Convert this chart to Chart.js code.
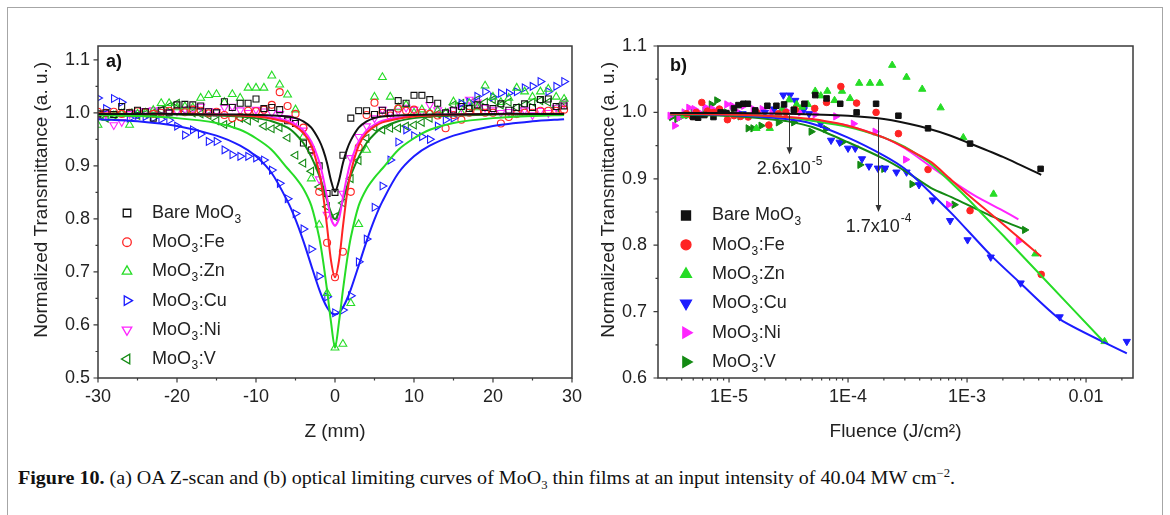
<!DOCTYPE html>
<html lang="en">
<head>
<meta charset="utf-8">
<title>Figure 10 - MoO3 Z-scan and optical limiting</title>
<script src="https://cdn.jsdelivr.net/npm/chart.js@4.4.1/dist/chart.umd.min.js"></script>
<style>
  html, body { margin: 0; padding: 0; background: #fff; }
  #figure { position: relative; width: 1170px; height: 515px; overflow: hidden; }
  #border { position: absolute; left: 7px; top: 7px; width: 1154px; height: 530px; border: 1.5px solid #a6a6a6; }
  #chartA { position: absolute; left: 8px; top: 8px; }
  #chartB { position: absolute; left: 585px; top: 8px; }
  #caption { position: absolute; left: 18px; top: 466px; white-space: nowrap; transform-origin: 0 0;
    font-family: "Liberation Serif", "DejaVu Serif", serif; font-size: 19px; line-height: 24px; color: #111; }
  #caption sub, #caption sup { font-size: 12px; line-height: 0; }
</style>
</head>
<body>
<div id="figure">
  <div id="border"></div>
  <canvas id="chartA" width="577" height="440"></canvas>
  <canvas id="chartB" width="575" height="440"></canvas>
  <div id="caption"><b>Figure 10.</b> (a) OA Z-scan and (b) optical limiting curves of MoO<sub>3</sub> thin films at an input intensity of 40.04 MW cm<sup>&minus;2</sup>.</div>
</div>
<script>
/* ---------- series shared by both panels ---------- */
const seriesNames = ['Bare MoO₃', 'MoO₃:Fe', 'MoO₃:Zn', 'MoO₃:Cu', 'MoO₃:Ni', 'MoO₃:V'];

/* ---------- panel (a): open aperture Z-scan ---------- */
const zPositions = [-30, -29, -28, -27, -26, -25, -24, -23, -22, -21, -20, -19, -18, -17, -16, -15, -14, -13, -12, -11,
  -10, -9, -8, -7, -6, -5, -4, -3, -2, -1, 0, 1, 2, 3, 4, 5, 6, 7, 8, 9, 10, 11, 12, 13, 14, 15, 16, 17, 18, 19,
  20, 21, 22, 23, 24, 25, 26, 27, 28, 29];

const zBare = [0.998, 1.0, 0.997, 1.012, 1.0, 1.005, 1.002, 0.99, 1.005, 1.0, 1.015, 1.016, 1.015, 1.013, 1.002, 1.0, 1.021, 1.01, 1.018, 1.018,
  1.026, 1.008, 1.01, 1.006, 0.985, 0.98, 0.943, 0.93, 0.9, 0.848, 0.85, 0.92, 0.99, 1.004, 1.004, 0.997, 1.005, 1.0, 1.023, 1.018,
  1.033, 1.033, 1.025, 1.018, 1.0, 1.005, 1.012, 1.008, 1.015, 1.01, 1.008, 1.017, 1.005, 1.01, 1.017, 1.01, 1.025, 1.026, 1.012, 1.013];
const zFe = [1.002, 1.0, 1.002, 0.998, 1.0, 1.003, 1.001, 0.998, 1.0, 1.004, 1.003, 1.001, 1.006, 1.004, 0.999, 1.002, 0.996, 0.99, 0.992, 1.004,
  1.003, 1.006, 1.015, 1.039, 1.013, 0.998, 0.972, 0.93, 0.851, 0.755, 0.69, 0.738, 0.851, 0.935, 0.996, 1.019, 1.0, 0.995, 1.008, 1.004,
  1.006, 1.0, 0.998, 0.995, 0.971, 0.996, 0.987, 1.0, 1.002, 1.0, 1.0, 0.98, 0.992, 0.998, 1.0, 1.0, 1.004, 1.004, 1.004, 1.006];
const zZn = [0.977, 0.99, 0.995, 0.998, 0.977, 0.998, 1.0, 1.005, 1.018, 1.018, 1.01, 1.012, 1.01, 1.028, 1.033, 1.035, 1.02, 1.035, 1.028, 1.047,
  1.047, 1.047, 1.07, 1.053, 1.034, 1.006, 0.955, 0.876, 0.789, 0.66, 0.557, 0.564, 0.641, 0.79, 0.93, 1.03, 1.067, 1.03, 1.01, 1.015,
  1.0, 1.006, 1.0, 1.004, 1.0, 1.021, 1.0, 1.018, 1.01, 1.051, 1.03, 1.02, 1.028, 1.047, 1.04, 1.03, 1.04, 1.045, 1.03, 1.026];
const zCu = [1.028, 1.008, 1.027, 1.02, 0.99, 0.995, 0.993, 0.99, 0.988, 0.986, 0.975, 0.958, 0.968, 0.96, 0.946, 0.946, 0.93, 0.921, 0.918, 0.918,
  0.915, 0.911, 0.892, 0.867, 0.838, 0.81, 0.781, 0.743, 0.692, 0.653, 0.623, 0.628, 0.655, 0.719, 0.762, 0.822, 0.862, 0.911, 0.945, 0.968,
  0.957, 0.955, 0.95, 0.975, 0.987, 0.99, 1.018, 1.02, 1.031, 1.04, 1.03, 1.037, 1.037, 1.04, 1.047, 1.05, 1.059, 1.04, 1.05, 1.059];
const zNi = [0.995, 0.998, 0.977, 0.983, 0.998, 1.0, 1.004, 1.005, 1.002, 1.0, 1.003, 1.006, 1.008, 1.012, 1.004, 1.002, 1.01, 1.012, 1.005, 1.0,
  1.006, 1.003, 1.0, 0.998, 0.99, 0.985, 0.967, 0.926, 0.875, 0.808, 0.795, 0.848, 0.915, 0.955, 0.975, 0.99, 1.006, 1.0, 1.003, 1.01,
  1.006, 1.002, 1.015, 1.005, 1.0, 1.005, 1.01, 1.025, 1.02, 1.01, 1.005, 1.0, 1.002, 1.0, 1.005, 0.996, 1.004, 1.0, 1.01, 1.018];
const zV = [0.995, 0.99, 0.996, 1.0, 1.0, 0.995, 0.998, 1.0, 1.005, 1.012, 1.018, 1.005, 1.0, 0.998, 0.995, 0.985, 0.978, 0.978, 0.99, 0.985,
  0.99, 0.975, 0.97, 0.972, 0.953, 0.92, 0.905, 0.89, 0.86, 0.823, 0.804, 0.83, 0.876, 0.91, 0.952, 0.972, 0.968, 0.971, 0.971, 0.975,
  0.977, 0.982, 0.99, 0.998, 1.0, 1.015, 1.018, 1.01, 1.025, 1.02, 1.025, 1.015, 1.02, 1.01, 1.015, 1.02, 1.023, 1.02, 1.01, 1.02];

// fitted curves
const zFitPositions = [-30, -25, -20, -15, -12, -10, -8, -6, -5, -4, -3, -2, -1.5, -1, -0.5, 0, 0.5, 1, 1.5, 2, 3, 4, 5, 6, 8, 10, 12, 15, 20, 25, 29];
const zFitBare = [0.998, 0.998, 0.998, 0.997, 0.997, 0.996, 0.995, 0.993, 0.99, 0.984, 0.972, 0.948, 0.93, 0.905, 0.872, 0.851,
  0.872, 0.905, 0.93, 0.948, 0.972, 0.984, 0.99, 0.993, 0.995, 0.996, 0.997, 0.997, 0.998, 0.998, 0.998];
const zFitFe = [0.999, 0.998, 0.998, 0.997, 0.995, 0.993, 0.989, 0.982, 0.974, 0.962, 0.938, 0.888, 0.845, 0.785, 0.721, 0.69,
  0.721, 0.785, 0.845, 0.888, 0.938, 0.962, 0.974, 0.982, 0.989, 0.993, 0.995, 0.997, 0.998, 0.998, 0.999];
const zFitZn = [0.996, 0.994, 0.99, 0.981, 0.968, 0.952, 0.93, 0.895, 0.878, 0.857, 0.825, 0.765, 0.72, 0.665, 0.605, 0.557,
  0.605, 0.665, 0.72, 0.765, 0.825, 0.857, 0.878, 0.895, 0.93, 0.952, 0.968, 0.981, 0.99, 0.994, 0.996];
const zFitCu = [0.988, 0.984, 0.975, 0.957, 0.938, 0.918, 0.886, 0.833, 0.799, 0.758, 0.712, 0.667, 0.648, 0.633, 0.623, 0.62,
  0.623, 0.633, 0.648, 0.667, 0.712, 0.758, 0.799, 0.833, 0.886, 0.918, 0.938, 0.957, 0.975, 0.984, 0.988];
const zFitNi = [0.998, 0.998, 0.998, 0.997, 0.996, 0.994, 0.991, 0.985, 0.978, 0.967, 0.946, 0.908, 0.878, 0.84, 0.80, 0.787,
  0.80, 0.84, 0.878, 0.908, 0.946, 0.967, 0.978, 0.985, 0.991, 0.994, 0.996, 0.997, 0.998, 0.998, 0.998];
const zFitV = [0.998, 0.997, 0.997, 0.995, 0.993, 0.99, 0.984, 0.972, 0.96, 0.943, 0.917, 0.882, 0.86, 0.835, 0.812, 0.80,
  0.812, 0.835, 0.86, 0.882, 0.917, 0.943, 0.96, 0.972, 0.984, 0.99, 0.993, 0.995, 0.997, 0.997, 0.998];

/* ---------- panel (b): optical limiting, fluence in J/cm2 ---------- */
const flBareF = [5.0e-6, 5.5e-6, 6.2e-6, 7.4e-6, 8.5e-6, 9.5e-6, 1.1e-5, 1.2e-5, 1.32e-5, 1.44e-5, 1.66e-5, 2.1e-5, 2.5e-5,
  2.9e-5, 3.5e-5, 4.3e-5, 5.3e-5, 6.6e-5, 8.6e-5, 1.18e-4, 1.72e-4, 2.65e-4, 4.7e-4, 1.06e-3, 4.15e-3];
const flBareT = [0.993, 0.992, 0.996, 0.993, 1.0, 0.999, 1.006, 1.011, 1.013, 1.013, 1.003, 1.01, 1.01,
  1.012, 1.004, 1.013, 1.026, 1.021, 1.013, 1.0, 1.013, 0.995, 0.976, 0.953, 0.915];
const flFeF = [4.4e-6, 4.9e-6, 5.3e-6, 5.9e-6, 6.6e-6, 7.4e-6, 8.3e-6, 9.7e-6, 1.1e-5, 1.25e-5, 1.45e-5, 1.7e-5, 2.16e-5,
  2.6e-5, 3.0e-5, 3.6e-5, 5.25e-5, 6.6e-5, 8.7e-5, 1.18e-4, 1.72e-4, 2.65e-4, 4.7e-4, 1.06e-3, 4.2e-3];
const flFeT = [0.998, 0.994, 1.0, 1.015, 1.002, 1.0, 1.005, 0.989, 0.995, 0.994, 0.993, 1.0, 0.981,
  0.998, 1.0, 1.004, 1.006, 1.015, 1.039, 1.014, 1.0, 0.968, 0.914, 0.852, 0.756];
const flZnF = [4.2e-6, 6.2e-6, 9e-6, 1.3e-5, 1.7e-5, 2.2e-5, 2.8e-5, 3.2e-5, 3.7e-5, 4.1e-5, 4.6e-5, 5.3e-5, 5.9e-5, 6.7e-5,
  7.7e-5, 8.9e-5, 1.04e-4, 1.24e-4, 1.53e-4, 1.85e-4, 2.35e-4, 3.1e-4, 4.2e-4, 6.0e-4, 9.3e-4, 1.67e-3, 3.75e-3, 1.43e-2];
const flZnT = [0.995, 0.997, 0.998, 0.995, 0.976, 0.976, 1.005, 1.019, 1.012, 1.008, 1.012, 1.032, 1.025, 1.032,
  1.018, 1.032, 1.021, 1.044, 1.044, 1.044, 1.071, 1.053, 1.035, 1.007, 0.962, 0.877, 0.787, 0.655];
const flCuF = [1.3e-5, 2.0e-5, 2.4e-5, 2.86e-5, 3.26e-5, 3.6e-5, 4.25e-5, 4.7e-5, 5.9e-5, 7.2e-5, 8.5e-5, 1.0e-4, 1.15e-4, 1.31e-4,
  1.5e-4, 1.78e-4, 2.05e-4, 2.55e-4, 3.1e-4, 3.95e-4, 5.15e-4, 7.2e-4, 1.01e-3, 1.58e-3, 2.82e-3, 6.0e-3, 2.2e-2];
const flCuT = [0.998, 1.0, 1.005, 1.026, 1.026, 1.018, 1.004, 0.998, 0.983, 0.958, 0.955, 0.946, 0.946, 0.93,
  0.919, 0.916, 0.916, 0.91, 0.91, 0.891, 0.868, 0.837, 0.808, 0.782, 0.743, 0.692, 0.655];
const flNiF = [3.2e-6, 3.5e-6, 3.8e-6, 4.2e-6, 4.6e-6, 5.1e-6, 5.6e-6, 6.3e-6, 7.3e-6, 8.3e-6, 9.6e-6, 1.06e-5, 1.2e-5,
  1.33e-5, 1.6e-5, 1.9e-5, 2.3e-5, 3.0e-5, 4.0e-5, 5.3e-5, 7.9e-5, 1.11e-4, 1.69e-4, 3.05e-4, 7.0e-4, 2.7e-3];
const flNiT = [0.995, 0.98, 0.992, 1.0, 1.007, 1.005, 1.0, 1.008, 1.005, 1.002, 1.012, 1.01, 1.0,
  1.01, 1.005, 1.005, 1.0, 1.003, 1.0, 0.997, 0.994, 0.983, 0.971, 0.929, 0.861, 0.806];
const flVF = [3.3e-6, 3.65e-6, 4.0e-6, 4.5e-6, 5.0e-6, 5.6e-6, 6.3e-6, 7.1e-6, 7.9e-6, 9.5e-6, 1.1e-5, 1.24e-5, 1.45e-5,
  1.59e-5, 1.86e-5, 2.6e-5, 3.5e-5, 4.9e-5, 6.5e-5, 8.9e-5, 1.26e-4, 2.0e-4, 3.45e-4, 7.8e-4, 3.05e-3];
const flVT = [0.993, 0.99, 0.994, 0.996, 1.0, 0.998, 1.003, 1.012, 1.018, 1.0, 0.997, 0.994, 0.976,
  0.976, 0.98, 0.985, 0.985, 0.971, 0.975, 0.955, 0.921, 0.915, 0.892, 0.861, 0.823];

// fitted limiting curves
const flFitBareF = [3.2e-6, 1e-5, 3e-5, 1e-4, 2e-4, 4e-4, 7e-4, 1e-3, 2e-3, 4.2e-3];
const flFitBareT = [0.999, 0.999, 0.998, 0.995, 0.99, 0.979, 0.966, 0.955, 0.933, 0.906];
const flFitFeF = [3.2e-6, 1e-5, 2e-5, 5e-5, 1e-4, 2e-4, 3e-4, 5e-4, 7e-4, 1e-3, 2e-3, 3e-3, 4.2e-3];
const flFitFeT = [0.998, 0.997, 0.995, 0.99, 0.98, 0.962, 0.947, 0.925, 0.902, 0.877, 0.832, 0.805, 0.783];
const flFitZnF = [3.2e-6, 1e-5, 3e-5, 1e-4, 2e-4, 3e-4, 5e-4, 8e-4, 1e-3, 1.5e-3, 2e-3, 4.2e-3, 1.4e-2];
const flFitZnT = [0.998, 0.997, 0.993, 0.978, 0.962, 0.948, 0.922, 0.888, 0.871, 0.838, 0.815, 0.754, 0.655];
const flFitCuF = [3.2e-6, 1e-5, 3e-5, 5e-5, 1e-4, 2e-4, 3e-4, 5e-4, 7.7e-4, 1.58e-3, 2.8e-3, 6.1e-3, 2.2e-2];
const flFitCuT = [0.998, 0.996, 0.99, 0.983, 0.962, 0.935, 0.915, 0.878, 0.845, 0.785, 0.743, 0.688, 0.637];
const flFitNiF = [3.2e-6, 1e-5, 3e-5, 1e-4, 2e-4, 3e-4, 5e-4, 8e-4, 1.2e-3, 2e-3, 2.7e-3];
const flFitNiT = [0.998, 0.997, 0.993, 0.98, 0.962, 0.946, 0.918, 0.893, 0.873, 0.852, 0.839];
const flFitVF = [3.2e-6, 1e-5, 3e-5, 5e-5, 1e-4, 2e-4, 3e-4, 5e-4, 7.7e-4, 1.55e-3, 3.1e-3];
const flFitVT = [0.997, 0.995, 0.987, 0.978, 0.955, 0.93, 0.912, 0.886, 0.871, 0.845, 0.823];

// onset thresholds marked with arrows
const arrowFluence = [3.2e-5, 1.79e-4];
const arrowFrom = [0.996, 0.99];
const arrowTo = [0.937, 0.85];
const arrowBase = ['2.6x10', '1.7x10'];
const arrowExponent = ['-5', '-4'];

// tick labels of the fluence axis
const fluenceMajorTicks = [1e-5, 1e-4, 1e-3, 1e-2];
const fluenceTickLabels = ['1E-5', '1E-4', '1E-3', '0.01'];

/* ---------- styling ---------- */
const fontFamily = '"Liberation Sans", Arial, sans-serif';
const inkColor = '#222';
const seriesColors = ['#111111', '#ff2424', '#26dc26', '#1c1cff', '#ff24ff', '#138a13'];
const markerShapes = ['rect', 'circle', 'triangle', 'triangle', 'triangle', 'triangle'];
// triangle directions differ between the panels: (a) open symbols, (b) filled symbols
const markerTurnsA = [0, 0, 0, 90, 180, 270];
const markerTurnsB = [0, 0, 0, 180, 90, 90];

function points(xs, ys) {
    return xs.map(function (x, i) { return { x: x, y: ys[i] }; });
}

function buildDatasets(markerX, markerY, fitX, fitY, filled, sizes, turns, tension) {
    var sets = [];
    for (var i = 0; i < seriesNames.length; i++) {
        sets.push({
            label: seriesNames[i],
            data: points(markerX[i], markerY[i]),
            showLine: false,
            pointStyle: markerShapes[i],
            pointRotation: turns[i],
            pointRadius: sizes[markerShapes[i]],
            pointBorderWidth: filled ? 1 : 1.1,
            pointBorderColor: seriesColors[i],
            pointBackgroundColor: filled ? seriesColors[i] : 'rgba(0,0,0,0)',
            order: 1,
            legendMarker: true
        });
        sets.push({
            label: seriesNames[i] + ' fit',
            data: points(fitX[i], fitY[i]),
            showLine: true,
            borderColor: seriesColors[i],
            borderWidth: 2,
            pointRadius: 0,
            tension: tension,
            order: 0
        });
    }
    return sets;
}

/* marker path with the same geometry Chart.js uses */
function markerPath(ctx, shape, r, turn, x, y) {
    ctx.beginPath();
    if (shape === 'circle') {
        ctx.arc(x, y, r, 0, Math.PI * 2);
    } else if (shape === 'rect') {
        var s = r * Math.SQRT1_2;
        ctx.rect(x - s, y - s, 2 * s, 2 * s);
    } else {
        var ang = turn * Math.PI / 180;
        for (var k = 0; k < 3; k++) {
            var px = x + Math.sin(ang) * r, py = y - Math.cos(ang) * r;
            if (k === 0) ctx.moveTo(px, py); else ctx.lineTo(px, py);
            ang += 2 * Math.PI / 3;
        }
        ctx.closePath();
    }
}

/* text with subscript 3 after MoO */
function drawChemLabel(ctx, text, x, y, size) {
    var parts = text.split('₃');
    ctx.font = size + 'px ' + fontFamily;
    ctx.fillText(parts[0], x, y);
    var cx = x + ctx.measureText(parts[0]).width;
    if (parts.length > 1) {
        ctx.font = Math.round(size * 0.67) + 'px ' + fontFamily;
        ctx.fillText('3', cx + 0.5, y + size * 0.36);
        cx += ctx.measureText('3').width + 1;
        ctx.font = size + 'px ' + fontFamily;
        ctx.fillText(parts[1], cx, y);
    }
}

const panelExtras = {
    id: 'panelExtras',
    afterDraw(chart, args, opts) {
        var ctx = chart.ctx, a = chart.chartArea, xs = chart.scales.x, ys = chart.scales.y;
        ctx.save();

        // frame round the plot area
        ctx.strokeStyle = '#3a3a3a';
        ctx.lineWidth = 1.5;
        ctx.strokeRect(a.left, a.top, a.right - a.left, a.bottom - a.top);

        // outward tick marks, long for labelled ticks
        ctx.lineWidth = 1.2;
        ctx.beginPath();
        xs.ticks.forEach(function (t) {
            var px = xs.getPixelForValue(t.value);
            ctx.moveTo(px, a.bottom);
            ctx.lineTo(px, a.bottom + (t.label ? 4.5 : 2.5));
        });
        ys.ticks.forEach(function (t) {
            var py = ys.getPixelForValue(t.value);
            ctx.moveTo(a.left, py);
            ctx.lineTo(a.left - (t.label ? 4.5 : 2.5), py);
        });
        ctx.stroke();

        // panel letter
        ctx.fillStyle = '#111';
        ctx.textBaseline = 'middle';
        ctx.textAlign = 'left';
        ctx.font = 'bold 18px ' + fontFamily;
        ctx.fillText(opts.letter, a.left + opts.letterDx, a.top + opts.letterDy);

        // legend in the lower left corner
        var markers = chart.data.datasets.filter(function (d) { return d.legendMarker; });
        markers.forEach(function (d, i) {
            var y = a.bottom - opts.legendBottomGap - (markers.length - 1 - i) * opts.legendRowStep;
            markerPath(ctx, d.pointStyle, opts.legendSizes[d.pointStyle], d.pointRotation, a.left + opts.legendSymbolDx, y);
            ctx.lineWidth = 1.3;
            ctx.strokeStyle = d.pointBorderColor;
            ctx.fillStyle = d.pointBackgroundColor;
            ctx.fill();
            ctx.stroke();
            ctx.fillStyle = inkColor;
            drawChemLabel(ctx, d.label, a.left + opts.legendTextDx, y, 18);
        });

        // threshold arrows
        (opts.arrows || []).forEach(function (ar) {
            var x = Math.round(xs.getPixelForValue(ar.fluence)) + 0.5;
            var y1 = ys.getPixelForValue(ar.from), y2 = ys.getPixelForValue(ar.to);
            ctx.strokeStyle = '#333';
            ctx.fillStyle = '#333';
            ctx.lineWidth = 1;
            ctx.beginPath();
            ctx.moveTo(x, y1);
            ctx.lineTo(x, y2 - 5);
            ctx.stroke();
            ctx.beginPath();
            ctx.moveTo(x - 3, y2 - 7);
            ctx.lineTo(x + 3, y2 - 7);
            ctx.lineTo(x, y2);
            ctx.closePath();
            ctx.fill();
            ctx.font = '18px ' + fontFamily;
            var wBase = ctx.measureText(ar.base).width;
            ctx.font = '12px ' + fontFamily;
            var wExp = ctx.measureText(ar.exponent).width;
            var left = x - (wBase + wExp + 1) / 2, ty = y2 + 15;
            ctx.fillStyle = inkColor;
            ctx.font = '18px ' + fontFamily;
            ctx.fillText(ar.base, left, ty);
            ctx.font = '12px ' + fontFamily;
            ctx.fillText(ar.exponent, left + wBase + 1, ty - 8);
        });
        ctx.restore();
    }
};

function tickFont() { return { family: fontFamily, size: 18 }; }
function titleFont() { return { family: fontFamily, size: 19 }; }

/* ---------- chart (a) ---------- */
var zSizes = { rect: 4.2, circle: 3.5, triangle: 4.5 };
new Chart(document.getElementById('chartA'), {
    type: 'scatter',
    data: {
        datasets: buildDatasets(
            [zPositions, zPositions, zPositions, zPositions, zPositions, zPositions],
            [zBare, zFe, zZn, zCu, zNi, zV],
            [zFitPositions, zFitPositions, zFitPositions, zFitPositions, zFitPositions, zFitPositions],
            [zFitBare, zFitFe, zFitZn, zFitCu, zFitNi, zFitV],
            false, zSizes, markerTurnsA, 0.3)
    },
    options: {
        responsive: false,
        animation: false,
        events: [],
        layout: { padding: { top: 38, right: 12, bottom: 0, left: 0 } },
        plugins: {
            legend: { display: false },
            tooltip: { enabled: false },
            panelExtras: {
                letter: 'a)', letterDx: 8, letterDy: 16,
                legendSymbolDx: 29, legendTextDx: 54, legendBottomGap: 19, legendRowStep: 29.2,
                legendSizes: { rect: 5.3, circle: 4.3, triangle: 5.5 }
            }
        },
        scales: {
            x: {
                type: 'linear', min: -30, max: 30,
                afterFit: function (s) { s.height = 70; },
                grid: { display: false, drawTicks: true, tickLength: 5 },
                border: { display: false },
                ticks: {
                    stepSize: 5, maxTicksLimit: 100, autoSkip: false, maxRotation: 0, padding: 3,
                    color: inkColor, font: tickFont(),
                    callback: function (v) { return v % 10 === 0 ? String(v) : ''; }
                },
                title: { display: true, text: 'Z (mm)', color: inkColor, font: titleFont(), padding: { top: 0, bottom: 4.6 } }
            },
            y: {
                min: 0.5, max: 1.126,
                afterFit: function (s) { s.width = 90; },
                grid: { display: false, drawTicks: true, tickLength: 5 },
                border: { display: false },
                ticks: {
                    stepSize: 0.05, includeBounds: false, maxTicksLimit: 100, autoSkip: false, padding: 3,
                    color: inkColor, font: tickFont(),
                    callback: function (v) { var t = Math.round(v * 100); return t % 10 === 0 ? (t / 100).toFixed(1) : ''; }
                },
                title: { display: true, text: 'Normalized Transmittance (a. u.)   ', align: 'end', color: inkColor,
                         font: titleFont(), padding: { top: 22.6, bottom: 0 } }
            }
        }
    },
    plugins: [panelExtras]
});

/* ---------- chart (b) ---------- */
var fMin = 2.53e-6, fMax = 0.0248;
var fluenceTicks = [];
[1e-6, 1e-5, 1e-4, 1e-3, 1e-2].forEach(function (d) {
    for (var m = 1; m <= 9; m++) {
        var v = m * d;
        if (v >= fMin && v <= fMax) fluenceTicks.push(v);
    }
});

var flSizes = { rect: 3.9, circle: 3.3, triangle: 4.2 };
var arrows = arrowFluence.map(function (f, i) {
    return { fluence: f, from: arrowFrom[i], to: arrowTo[i], base: arrowBase[i], exponent: arrowExponent[i] };
});

new Chart(document.getElementById('chartB'), {
    type: 'scatter',
    data: {
        datasets: buildDatasets(
            [flBareF, flFeF, flZnF, flCuF, flNiF, flVF],
            [flBareT, flFeT, flZnT, flCuT, flNiT, flVT],
            [flFitBareF, flFitFeF, flFitZnF, flFitCuF, flFitNiF, flFitVF],
            [flFitBareT, flFitFeT, flFitZnT, flFitCuT, flFitNiT, flFitVT],
            true, flSizes, markerTurnsB, 0.2)
    },
    options: {
        responsive: false,
        animation: false,
        events: [],
        layout: { padding: { top: 38, right: 27, bottom: 0, left: 0 } },
        plugins: {
            legend: { display: false },
            tooltip: { enabled: false },
            panelExtras: {
                letter: 'b)', letterDx: 12, letterDy: 20,
                legendSymbolDx: 28, legendTextDx: 54, legendBottomGap: 16, legendRowStep: 29.3,
                legendSizes: { rect: 6.4, circle: 5, triangle: 6.3 },
                arrows: arrows
            }
        },
        scales: {
            x: {
                type: 'logarithmic', min: fMin, max: fMax,
                afterFit: function (s) { s.height = 70; },
                afterBuildTicks: function (s) { s.ticks = fluenceTicks.map(function (v) { return { value: v }; }); },
                grid: { display: false, drawTicks: true, tickLength: 5 },
                border: { display: false },
                ticks: {
                    autoSkip: false, maxRotation: 0, padding: 3, color: inkColor, font: tickFont(),
                    callback: function (v) {
                        var k = fluenceMajorTicks.findIndex(function (t) { return Math.abs(Math.log10(t / v)) < 1e-6; });
                        return k >= 0 ? fluenceTickLabels[k] : '';
                    }
                },
                title: { display: true, text: 'Fluence (J/cm²)', color: inkColor, font: titleFont(), padding: { top: 0, bottom: 4.6 } }
            },
            y: {
                min: 0.6, max: 1.1,
                afterFit: function (s) { s.width = 73; },
                grid: { display: false, drawTicks: true, tickLength: 5 },
                border: { display: false },
                ticks: {
                    stepSize: 0.05, includeBounds: false, maxTicksLimit: 100, autoSkip: false, padding: 6,
                    color: inkColor, font: tickFont(),
                    callback: function (v) { var t = Math.round(v * 100); return t % 10 === 0 ? (t / 100).toFixed(1) : ''; }
                },
                title: { display: true, text: 'Normalized Transmittance (a. u.)   ', align: 'end', color: inkColor,
                         font: titleFont(), padding: { top: 12.6, bottom: 0 } }
            }
        }
    },
    plugins: [panelExtras]
});

/* caption is set in a condensed serif in the paper: squeeze it to the same width */
function fitCaption() {
    var cap = document.getElementById('caption');
    cap.style.transform = 'none';
    var w = cap.getBoundingClientRect().width;
    cap.style.transform = 'scaleX(' + (937 / w) + ')';
}
fitCaption();
if (document.fonts && document.fonts.ready) document.fonts.ready.then(fitCaption);
</script>
</body>
</html>
